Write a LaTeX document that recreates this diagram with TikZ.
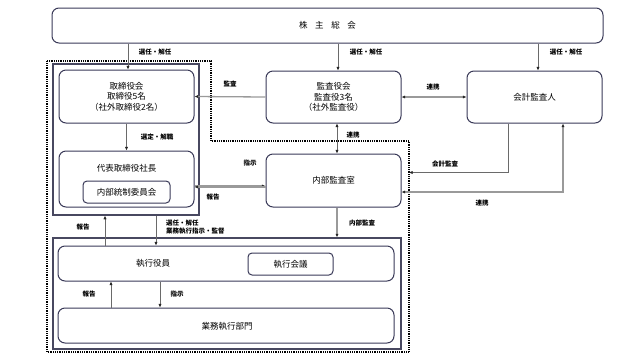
\documentclass[tikz,border=0pt]{standalone}
\usepackage{fontspec}
\setmainfont{Noto Sans CJK JP}
\usetikzlibrary{arrows.meta,calc}
\definecolor{boxline}{HTML}{3A3A58}
\definecolor{conn}{HTML}{9A9A9A}
\definecolor{connd}{HTML}{6A6A6A}
\tikzset{
  rbox/.style={draw=boxline,line width=1pt,rounded corners=7pt,minimum width=#1,inner sep=0pt},
  grp/.style={draw=boxline!80!gray,line width=1.3pt,inner sep=0pt},
  txt/.style={font=\fontsize{8.5}{10.5}\selectfont,align=center,inner sep=0pt},
  lbl/.style={font=\fontsize{6.5}{8}\selectfont\bfseries,inner sep=0pt},
  tip/.style={-{Latex[length=3.6pt,width=3.2pt,color=black!85]}},
  bitip/.style={{Latex[length=3.6pt,width=3.2pt,color=black!85]}-{Latex[length=3.6pt,width=3.2pt,color=black!85]}},
  thinc/.style={draw=connd,line width=0.6pt},
  thickc/.style={draw=conn,line width=1.3pt},
}
\begin{document}
\begin{tikzpicture}[x=1pt,y=-1pt]
\useasboundingbox[fill=white] (0,0) rectangle (641,360);
% groups
\node[grp,minimum width=146pt,minimum height=151pt] (boardgrp) at (126,139.5) {};
\node[grp,minimum width=348pt,minimum height=111pt] (execgrp) at (227,293.5) {};
\coordinate (dA) at (47,61);
\coordinate (dB) at (211,61);
\coordinate (dC) at (211,141);
\coordinate (dD) at (409,141);
\coordinate (dE) at (409,352);
\coordinate (dF) at (47,352);
\draw[line width=1.1pt,dash pattern=on 0.9pt off 0.9pt] (dA) -- (dB) -- (dC) -- (dD) -- (dE) -- (dF) -- cycle;
% boxes
\node[rbox=551pt,minimum height=35pt] (soukai) at (327.5,25.5) {};
\node[txt] (soukaiT) at (soukai) {株\hspace{0.9em}主\hspace{0.9em}総\hspace{0.9em}会};
\node[rbox=135pt,minimum height=53pt,txt] (torikai) at (126.5,96.5) {取締役会\\取締役5名\\（社外取締役2名）};
\node[rbox=135pt,minimum height=56pt] (shacho) at (126.5,179) {};
\node[txt] (shachoT) at (126.5,168) {代表取締役社長};
\node[rbox=87pt,minimum height=22pt,txt,rounded corners=4pt] (tosei) at (126.5,192) {内部統制委員会};
\node[rbox=135pt,minimum height=52pt,txt] (kansayaku) at (333.5,97) {監査役会\\監査役3名\\（社外監査役）};
\node[rbox=135pt,minimum height=52pt,txt] (kaikei) at (534.5,97) {会計監査人};
\node[rbox=135pt,minimum height=53pt,txt] (naibu) at (333.5,180.5) {内部監査室};
\node[rbox=336pt,minimum height=35pt] (shikko) at (226,263.5) {};
\node[txt] (shikkoT) at (153,263) {執行役員};
\node[rbox=85pt,minimum height=22pt,txt,rounded corners=4pt] (kaigi) at (290.5,264) {執行会議};
\node[rbox=336pt,minimum height=35pt,txt] (gyomu) at (226,325.5) {};
\node[txt] (gyomuT) at (227,326) {業務執行部門};
% connectors from soukai
\draw[thinc,tip] ([xshift=1.5pt]torikai.north |- soukai.south) -- ([xshift=1.5pt]torikai.north);
\draw[thinc,tip] ([xshift=4.5pt]kansayaku.north |- soukai.south) -- ([xshift=4.5pt]kansayaku.north);
\draw[thinc,tip] ([xshift=3.5pt]kaikei.north |- soukai.south) -- ([xshift=3.5pt]kaikei.north);
\node[lbl] (l1) at (155,52) {選任・解任};
\node[lbl] (l2) at (366,52) {選任・解任};
\node[lbl] (l3) at (566,52) {選任・解任};
% audit
\draw[thickc,tip] (kansayaku.west) -- (torikai.east);
\node[lbl] (l4) at (230,84) {監査};
\draw[thickc,bitip] (kansayaku.east) -- (kaikei.west);
\node[lbl] (l5) at (433,87) {連携};
\draw[thinc,tip] (torikai.south) -- (shacho.north);
\node[lbl] (l6) at (157,137) {選定・解職};
\draw[thinc,bitip] ([xshift=3.5pt]kansayaku.south) -- ([xshift=3.5pt]naibu.north);
\node[lbl] (l7) at (353,135) {連携};
\draw[thickc,tip] ([yshift=-7pt]shacho.east) -- ([yshift=-7pt]shacho.east -| naibu.west);
\node[lbl] (l8) at (250,163) {指示};
\draw[thickc,tip] ([yshift=-6.5pt]naibu.west) -- ([yshift=-6.5pt]naibu.west -| shacho.east);
\node[lbl] (l9) at (213,197) {報告};
\coordinate (kk1) at ([xshift=-26.5pt]kaikei.south);
\coordinate (kk2) at ($(kk1)+(0,49)$);
\draw[thinc,tip] (kk1) -- (kk2) -- (kk2 -| dE);
\node[lbl] (l10) at (445,164) {会計監査};
\coordinate (rk1) at ([yshift=-11.5pt]naibu.east);
\coordinate (rk2) at ([xshift=28.5pt]kaikei.south);
\draw[thickc,bitip] (rk1) -- (rk1 -| rk2) -- (rk2);
\node[lbl] (l11) at (482,203) {連携};
\draw[thickc,tip] ([xshift=3.5pt]naibu.south) -- ([xshift=3.5pt]naibu.south |- execgrp.north);
\node[lbl] (l12) at (362,223) {内部監査};
% exec
\draw[thinc,tip] (shikko.north -| 105,0) -- (boardgrp.south -| 105,0);
\node[lbl] (l13) at (83,227) {報告};
\draw[thinc,tip] (boardgrp.south -| 156,0) -- (shikko.north -| 156,0);
\node[lbl,anchor=west,align=left] (l14) at (166,227.5) {選任・解任\\業務執行指示・監督};
\draw[thinc,tip] (gyomu.north -| 111,0) -- (shikko.south -| 111,0);
\node[lbl] (l15) at (89,294) {報告};
\draw[thinc,tip] (shikko.south -| 160,0) -- (gyomu.north -| 160,0);
\node[lbl] (l16) at (177,294) {指示};
\end{tikzpicture}
\end{document}
